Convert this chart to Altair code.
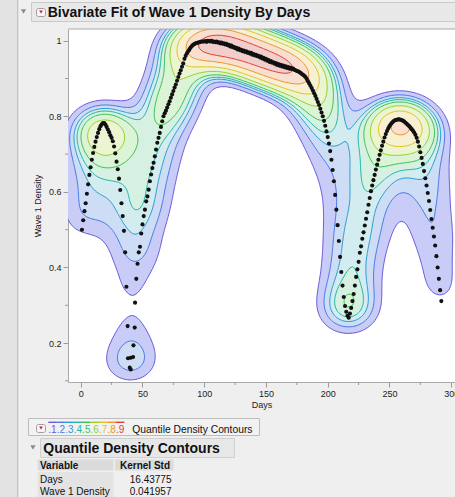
import numpy as np
import pandas as pd
import altair as alt

# ---------------- data ----------------
# first hump: one reading per day, starting at day 1
hump_start_day = 1
hump_density = [
    0.500, 0.525, 0.549, 0.570, 0.595, 0.620, 0.645, 0.665, 0.685, 0.703,
    0.719, 0.733, 0.745, 0.756, 0.766, 0.774, 0.779, 0.782, 0.782, 0.778,
    0.772, 0.765, 0.758, 0.750, 0.743, 0.734, 0.720, 0.702, 0.680, 0.660,
    0.635, 0.605, 0.570, 0.536, 0.497, 0.440, 0.349,
]
# low cluster near day 40
cluster_days = [38.0, 43.7, 42.7, 38.3, 40.5, 42.4, 39.7, 40.5]
cluster_density = [0.245, 0.241, 0.194, 0.160, 0.161, 0.163, 0.135, 0.130]
# main run: one reading per day, starting at day 44
main_start_day = 44
main_density = [
    0.307, 0.370, 0.410, 0.440, 0.455, 0.490, 0.514, 0.536, 0.553, 0.575,
    0.588, 0.606, 0.628, 0.646, 0.663, 0.677, 0.694, 0.712, 0.730, 0.743,
    0.756, 0.772, 0.787, 0.800, 0.808, 0.815, 0.823, 0.832, 0.840, 0.849,
    0.858, 0.867, 0.876, 0.884, 0.894, 0.904, 0.913, 0.922, 0.931, 0.940,
    0.952, 0.960, 0.967, 0.972, 0.977, 0.982, 0.986, 0.989, 0.991, 0.993,
    0.994, 0.995, 0.996, 0.997, 0.998, 0.998, 0.998, 0.999, 0.997, 1.000,
    0.999, 0.998, 1.000, 0.997, 0.998, 0.996, 0.998, 0.995, 0.996, 0.993,
    0.995, 0.992, 0.993, 0.990, 0.992, 0.988, 0.989, 0.985, 0.987, 0.983,
    0.984, 0.980, 0.981, 0.977, 0.979, 0.975, 0.976, 0.972, 0.974, 0.970,
    0.972, 0.968, 0.969, 0.966, 0.968, 0.963, 0.965, 0.961, 0.963, 0.959,
    0.960, 0.956, 0.958, 0.953, 0.955, 0.950, 0.952, 0.947, 0.949, 0.944,
    0.946, 0.942, 0.943, 0.939, 0.941, 0.936, 0.938, 0.934, 0.936, 0.932,
    0.934, 0.930, 0.932, 0.928, 0.930, 0.926, 0.928, 0.925, 0.926, 0.923,
    0.922, 0.920, 0.919, 0.917, 0.915, 0.912, 0.910, 0.907, 0.904, 0.899,
    0.893, 0.887, 0.881, 0.875, 0.868, 0.861, 0.854, 0.846, 0.838, 0.830,
    0.820, 0.810, 0.800, 0.788, 0.775, 0.760, 0.745, 0.728, 0.708, 0.685,
    0.658, 0.628, 0.592, 0.553, 0.512, 0.470, 0.428, 0.388, 0.352, 0.322,
    0.298, 0.283, 0.272, 0.267, 0.278, 0.293, 0.311, 0.330, 0.352, 0.375,
    0.395, 0.415, 0.439, 0.456, 0.476, 0.493, 0.511, 0.529, 0.546, 0.566,
    0.584, 0.602, 0.617, 0.631, 0.645, 0.659, 0.672, 0.685, 0.698, 0.710,
    0.722, 0.733, 0.744, 0.753, 0.761, 0.768, 0.774, 0.779, 0.783, 0.786,
    0.789, 0.790, 0.791, 0.792, 0.792, 0.791, 0.790, 0.788, 0.786, 0.783,
    0.780, 0.777, 0.774, 0.770, 0.766, 0.762, 0.757, 0.751, 0.743, 0.733,
    0.720, 0.705, 0.690, 0.674, 0.655, 0.636, 0.617, 0.597, 0.576, 0.552,
    0.528, 0.505, 0.482, 0.458, 0.430, 0.400, 0.370, 0.340, 0.311,
]

kernel_std_days = 16.43775
kernel_std_density = 0.041957
contour_levels = [0.1, 0.2, 0.3, 0.4, 0.5, 0.6, 0.7, 0.8, 0.9]
level_labels = [".1", ".2", ".3", ".4", ".5", ".6", ".7", ".8", ".9"]
line_colors = ["#6a58d8", "#4a78e6", "#2c9bd2", "#22b6a6", "#3cc34a",
               "#98cf2a", "#e2c21e", "#f1922c", "#e23d36"]
fill_colors = ["#c8ccf6", "#cdddf5", "#d3ecef", "#d6f1e2", "#dcf4d6",
               "#ecf5d2", "#f8f0d3", "#f8dfd0", "#f1cdcb"]
x_tick_values = [0, 50, 100, 150, 200, 250, 300]
x_minor_values = [25, 75, 125, 175, 225, 275]
y_tick_values = [0.2, 0.4, 0.6, 0.8, 1.0]
y_minor_values = [0.1, 0.3, 0.5, 0.7, 0.9]
chart_title = "Bivariate Fit of Wave 1 Density By Days"
report_title = "Quantile Density Contours"
table_header = ["Variable", "Kernel Std"]
table_variables = ["Days", "Wave 1 Density"]
table_kernel_std = ["16.43775", "0.041957"]

# ---------------- assemble points ----------------
days = np.concatenate([
    hump_start_day + np.arange(len(hump_density)),
    np.array(cluster_days),
    main_start_day + np.arange(len(main_density)),
]).astype(float)
dens = np.concatenate([hump_density, cluster_density, main_density]).astype(float)
points = pd.DataFrame({"Days": days, "Wave 1 Density": dens})

# ---------------- kernel density + quantile contours ----------------
gx = np.arange(-80.0, 382.0, 2.0)
gy = np.arange(-0.15, 1.30001, 0.005)
Kx = np.exp(-0.5 * ((gx[:, None] - days[None, :]) / kernel_std_days) ** 2)
Ky = np.exp(-0.5 * ((gy[:, None] - dens[None, :]) / kernel_std_density) ** 2)
Z = Ky @ Kx.T  # (ny, nx)
flat = np.sort(Z.ravel())[::-1]
cum = np.cumsum(flat) / flat.sum()
thresholds = [flat[min(np.searchsorted(cum, 1 - q), len(flat) - 1)] for q in contour_levels]


def contour_loops(t):
    B = Z > t
    a = B[:-1, :-1]; b = B[:-1, 1:]; c = B[1:, 1:]; d = B[1:, :-1]
    s = a.astype(int) + b + c + d
    rr, cc = np.nonzero((s > 0) & (s < 4))
    adj = {}

    def link(e1, e2):
        adj.setdefault(e1, []).append(e2)
        adj.setdefault(e2, []).append(e1)

    for r, k in zip(rr, cc):
        A = B[r, k]; Bb = B[r, k + 1]; C = B[r + 1, k + 1]; D = B[r + 1, k]
        eb = ("h", r, k); et = ("h", r + 1, k); el = ("v", r, k); er = ("v", r, k + 1)
        edges = []
        if A != Bb: edges.append(eb)
        if Bb != C: edges.append(er)
        if C != D: edges.append(et)
        if D != A: edges.append(el)
        if len(edges) == 2:
            link(edges[0], edges[1])
        else:
            center = (Z[r, k] + Z[r, k + 1] + Z[r + 1, k + 1] + Z[r + 1, k]) / 4 > t
            if A:
                if center:
                    link(eb, er); link(et, el)
                else:
                    link(el, eb); link(er, et)
            else:
                if center:
                    link(el, eb); link(er, et)
                else:
                    link(eb, er); link(et, el)

    def pt(e):
        kind, r, k = e
        if kind == "h":
            z0, z1 = Z[r, k], Z[r, k + 1]
            f = (t - z0) / (z1 - z0)
            return gx[k] + f * (gx[k + 1] - gx[k]), gy[r]
        z0, z1 = Z[r, k], Z[r + 1, k]
        f = (t - z0) / (z1 - z0)
        return gx[k], gy[r] + f * (gy[r + 1] - gy[r])

    visited = set()
    loops = []
    for start in adj:
        if start in visited:
            continue
        loop = [start]; visited.add(start)
        prev, cur = None, start
        while True:
            nb = adj[cur]
            nxt = nb[0] if nb[0] != prev else (nb[1] if len(nb) > 1 else None)
            if nxt is None or nxt in visited:
                break
            loop.append(nxt); visited.add(nxt)
            prev, cur = cur, nxt
        loops.append([pt(e) for e in loop])
    return loops


rows = []
for li, t in enumerate(thresholds):
    for pi, loop in enumerate(contour_loops(t)):
        loop = loop + [loop[0]]
        for oi, (x, y) in enumerate(loop):
            rows.append({"level": contour_levels[li], "poly": f"{li}-{pi}",
                         "ord": oi, "x": round(float(x), 2), "y": round(float(y), 4)})
contours = pd.DataFrame(rows)

# ---------------- layout ----------------
OX, OY = 68, 29
W, H = 387, 353
X_DOMAIN = [-10.3, 303.06]
Y_DOMAIN = [0.097, 1.031]
FONT = "Liberation Sans"
xs = alt.Scale(domain=X_DOMAIN, nice=False, zero=False)
ys = alt.Scale(domain=Y_DOMAIN, nice=False, zero=False)
one = pd.DataFrame({"k": [0]})


def box(x0, y0, x1, y1, fill, stroke=None, r=0):
    kw = dict(fill=fill, clip=False)
    if stroke:
        kw.update(stroke=stroke, strokeWidth=1)
    if r:
        kw["cornerRadius"] = r
    return alt.Chart(one).mark_rect(**kw).encode(
        x=alt.value(x0 - OX), x2=alt.value(x1 - OX),
        y=alt.value(y0 - OY), y2=alt.value(y1 - OY))


def label(px, py, s, size, weight="normal", align="left", color="#111"):
    return alt.Chart(one).mark_text(
        text=s, font=FONT, fontSize=size, fontWeight=weight, align=align,
        baseline="alphabetic", color=color, clip=False).encode(
        x=alt.value(px - OX), y=alt.value(py - OY))


def tri(px, py, color="#8c8c8c", size=28):
    return alt.Chart(one).mark_point(shape="triangle-down", filled=True, size=size,
                                     color=color, opacity=1, clip=False).encode(
        x=alt.value(px - OX), y=alt.value(py - OY))


def menu(cx, cy):
    return [box(cx - 4.5, cy - 4, cx + 4.5, cy + 4, "#f6f6f6", "#9d9d9d", 2),
            tri(cx, cy - 0.5, "#d0202a", 14)]


layers = []
layers.append(box(0, 0, 17, 497, "#e3e3e3"))
layers.append(box(17, 0, 18.3, 497, "#c2c2c2"))
layers.append(box(31.5, 2.5, 470, 21.5, "#e8e8e8", "#c9c9c9"))
layers.append(tri(23.5, 11.5))
layers += menu(41, 12.5)
layers.append(label(47.7, 17.4, chart_title, 14, "bold"))

# filled contour bands, outer to inner
base_c = alt.Chart(contours)
for li, lev in enumerate(contour_levels):
    layers.append(
        base_c.transform_filter(alt.datum.level == lev)
        .mark_line(filled=True, fill=fill_colors[li], clip=True, interpolate="linear")
        .encode(x=alt.X("x:Q", scale=xs), y=alt.Y("y:Q", scale=ys),
                detail="poly:N", order="ord:Q"))
layers.append(
    base_c.mark_line(strokeWidth=1, clip=True, interpolate="linear").encode(
        x=alt.X("x:Q", scale=xs), y=alt.Y("y:Q", scale=ys),
        detail="poly:N", order="ord:Q",
        stroke=alt.Stroke("level:O", scale=alt.Scale(domain=contour_levels, range=line_colors),
                          legend=None)))

# points with axes
layers.append(
    alt.Chart(points).mark_circle(size=17, color="#111111", opacity=1, clip=True).encode(
        x=alt.X("Days:Q", scale=xs, title="Days",
                axis=alt.Axis(values=x_tick_values, format="d", grid=False, tickSize=5,
                              labelPadding=2, titlePadding=2)),
        y=alt.Y("Wave 1 Density:Q", scale=ys, title="Wave 1 Density",
                axis=alt.Axis(values=y_tick_values, format="~g", grid=False, tickSize=5,
                              labelPadding=2, titlePadding=6))))

# plot frame top + minor ticks
layers.append(alt.Chart(one).mark_rule(color="#a9a9a9", strokeWidth=1).encode(
    x=alt.value(0), x2=alt.value(W + 5), y=alt.value(0)))
layers.append(alt.Chart(pd.DataFrame({"m": x_minor_values})).mark_rule(color="#9a9a9a").encode(
    x=alt.X("m:Q", scale=xs), y=alt.value(H), y2=alt.value(H + 3)))
layers.append(alt.Chart(pd.DataFrame({"m": y_minor_values})).mark_rule(color="#9a9a9a").encode(
    y=alt.Y("m:Q", scale=ys), x=alt.value(0), x2=alt.value(-3)))

# legend strip for the contours
layers.append(box(28.5, 418.5, 259.5, 435.5, "#f2f2f2", "#bdbdbd"))
layers += menu(41, 428.5)
for i, (lab, col) in enumerate(zip(level_labels, line_colors)):
    x0 = 48.3 + i * 8.45
    layers.append(box(x0, 421.6, x0 + 8.45, 423.0, col))
    layers.append(label(x0, 432.9, lab, 10, color=col))
layers.append(label(132.3, 432.8, report_title, 10.3))

# report section
layers.append(tri(33, 447.5))
layers.append(box(40.5, 438.5, 234.5, 457.5, "#e7e7e7", "#d0d0d0"))
layers.append(label(43.3, 452.7, report_title, 14, "bold"))
layers.append(box(37.7, 459.5, 113.5, 470.5, "#dbdbdb"))
layers.append(box(115, 459.5, 173.5, 470.5, "#dbdbdb"))
layers.append(box(37.7, 472, 113.5, 497, "#e3e3e3"))
layers.append(label(40, 468.6, table_header[0], 10, "bold"))
layers.append(label(120, 468.6, table_header[1], 10, "bold"))
for i, (v, s) in enumerate(zip(table_variables, table_kernel_std)):
    yb = 482.7 + i * 12.4
    layers.append(label(40, yb, v, 10))
    layers.append(label(171.5, yb, s, 10, align="right"))

chart = alt.layer(*layers).properties(
    width=W, height=H,
    padding={"left": OX, "top": OY, "right": 0, "bottom": 497 - OY - H},
    autosize=alt.AutoSizeParams(type="none"),
).configure(background="#efefef").configure_view(fill="white", stroke=None).configure_axis(
    labelFont=FONT, titleFont=FONT, labelFontSize=9, titleFontSize=9,
    titleFontWeight="normal", labelColor="#222", titleColor="#222",
    domainColor="#a9a9a9", tickColor="#9a9a9a")

chart.save("out.html", embed_options={"renderer": "svg", "actions": False})
